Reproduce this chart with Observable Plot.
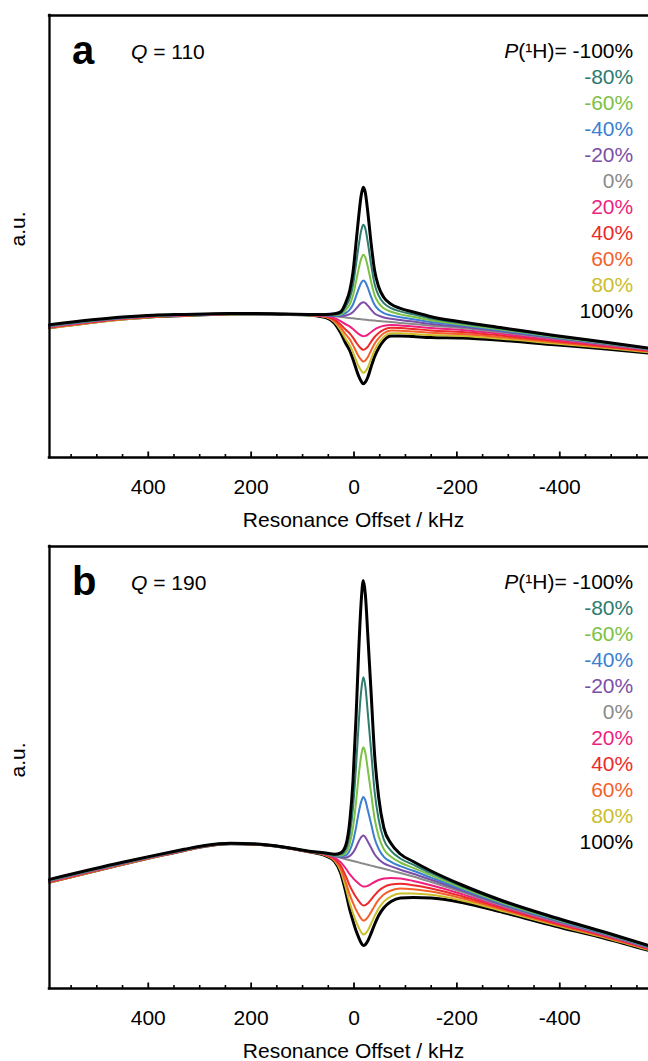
<!DOCTYPE html>
<html><head><meta charset="utf-8">
<script src="https://cdn.jsdelivr.net/npm/d3@7"></script>
<script src="https://cdn.jsdelivr.net/npm/@observablehq/plot@0.6"></script>
<style>
html,body{margin:0;padding:0;background:#fff;overflow:hidden;width:648px;height:1061px}
#chart{width:658px}
#chart svg{display:block;max-width:none}
</style></head><body><div id="chart"></div>
<script>
// Resonance offset sample positions (kHz)
const offsetKHz = [592, 450, 390, 330, 290, 240, 190, 150, 90, 55, 38, 26, 16, 8, 2, -4, -9, -14, -18, -22, -27, -33, -40, -48, -58, -72, -90, -115, -150, -210, -290, -390, -490, -573];

const polarization = [-100, -80, -60, -40, -20, 0, 20, 40, 60, 80, 100];
const legendLabels = ["P(¹H)= -100%", "-80%", "-60%", "-40%", "-20%", "0%", "20%", "40%", "60%", "80%", "100%"];
const seriesColors = ["#000000", "#2e7b70", "#7cc143", "#3b7fd0", "#7b4ea8", "#8a8a8a", "#ee1f7f", "#ed2a2a", "#f3612b", "#cbbd2c", "#000000"];
const xMajorTicks = [400, 200, 0, -200, -400];
const xMinorTicks = [550, 500, 450, 350, 300, 250, 150, 100, 50, -50, -100, -150, -250, -300, -350, -450, -500, -550];

// Panel a (Q = 110), intensity in a.u.
const a_m100 = [132.8, 140.4, 142.3, 143.1, 143.6, 143.9, 143.9, 143.6, 143.1, 143.0, 143.7, 145.6, 155.0, 167.5, 185.2, 214.8, 240.5, 262.2, 270.3, 264.8, 244.5, 215.2, 186.9, 170.5, 160.0, 153.4, 149.1, 145.5, 140.8, 135.5, 129.5, 122.0, 115.2, 109.5];
const a_m80 = [132.4, 140.2, 142.1, 143.0, 143.5, 143.8, 143.8, 143.6, 143.0, 142.8, 143.1, 144.3, 150.9, 159.7, 172.3, 193.3, 211.6, 227.0, 232.7, 228.9, 214.5, 193.7, 173.5, 161.8, 154.3, 149.4, 146.1, 143.1, 139.0, 134.3, 128.6, 121.4, 114.8, 109.2];
const a_m60 = [132.1, 139.9, 142.0, 142.8, 143.4, 143.8, 143.8, 143.6, 143.0, 142.6, 142.5, 143.2, 147.6, 153.4, 161.9, 176.1, 188.4, 198.8, 202.7, 200.1, 190.3, 176.1, 162.4, 154.4, 149.2, 145.7, 143.1, 140.7, 137.2, 133.1, 127.7, 120.8, 114.3, 108.9];
const a_m40 = [131.7, 139.7, 141.8, 142.7, 143.3, 143.7, 143.8, 143.5, 142.9, 142.4, 142.0, 142.3, 144.6, 148.0, 153.0, 161.3, 168.6, 174.7, 177.0, 175.4, 169.5, 160.9, 152.7, 147.7, 144.4, 142.1, 140.2, 138.3, 135.4, 131.9, 126.8, 120.2, 113.9, 108.6];
const a_m20 = [131.4, 139.4, 141.6, 142.5, 143.2, 143.7, 143.7, 143.5, 142.9, 142.2, 141.6, 141.4, 142.1, 143.3, 145.4, 148.8, 151.9, 154.4, 155.3, 154.5, 151.8, 147.9, 144.1, 141.8, 140.0, 138.7, 137.4, 135.9, 133.6, 130.7, 125.9, 119.6, 113.4, 108.3];
const a_0 = [131.0, 139.2, 141.4, 142.4, 143.1, 143.6, 143.7, 143.5, 142.8, 142.0, 141.2, 140.6, 140.0, 139.5, 139.2, 138.8, 138.5, 138.2, 138.0, 137.8, 137.5, 137.2, 136.9, 136.5, 136.0, 135.4, 134.6, 133.5, 131.8, 129.5, 125.0, 119.0, 113.0, 108.0];
const a_p20 = [130.6, 138.9, 141.2, 142.2, 143.0, 143.5, 143.7, 143.5, 142.7, 141.6, 139.4, 136.4, 133.2, 130.9, 128.5, 125.7, 123.6, 122.0, 121.3, 121.6, 122.9, 125.3, 128.0, 130.1, 131.8, 132.5, 132.0, 131.0, 129.4, 127.5, 123.4, 117.7, 112.1, 107.3];
const a_p40 = [130.2, 138.6, 141.0, 142.1, 142.9, 143.5, 143.6, 143.5, 142.6, 141.2, 137.9, 133.0, 127.7, 123.9, 119.9, 115.2, 111.6, 108.9, 107.7, 108.5, 110.9, 115.5, 120.5, 124.5, 127.9, 129.7, 129.4, 128.5, 127.1, 125.5, 121.8, 116.5, 111.2, 106.6];
const a_p60 = [129.8, 138.4, 140.8, 141.9, 142.8, 143.4, 143.6, 143.4, 142.6, 140.8, 136.6, 130.1, 123.0, 117.9, 112.4, 106.1, 101.2, 97.7, 96.0, 97.1, 100.4, 106.8, 113.8, 119.4, 124.2, 126.9, 126.8, 126.0, 124.7, 123.5, 120.2, 115.2, 110.3, 105.9];
const a_p80 = [129.4, 138.1, 140.6, 141.8, 142.7, 143.3, 143.5, 143.4, 142.5, 140.4, 135.4, 127.3, 118.4, 112.1, 105.2, 97.3, 91.2, 86.8, 84.7, 86.0, 90.3, 98.4, 107.3, 114.4, 120.6, 124.2, 124.2, 123.5, 122.4, 121.5, 118.6, 114.0, 109.4, 105.2];
const a_p100 = [129.8, 138.4, 140.8, 141.9, 142.8, 143.4, 143.6, 143.4, 142.6, 140.0, 134.2, 124.6, 114.0, 106.5, 98.2, 88.8, 81.5, 76.2, 73.7, 75.3, 80.5, 90.2, 100.9, 109.5, 117.0, 121.4, 121.6, 121.0, 120.0, 119.5, 117.0, 112.7, 108.5, 104.5];

// Panel b (Q = 190), intensity in a.u.
const b_m100 = [109.1, 126.2, 132.9, 139.2, 143.1, 145.3, 144.6, 142.6, 137.6, 135.5, 134.2, 135.6, 143.3, 168.3, 207.5, 271.7, 336.1, 387.4, 407.9, 394.4, 351.7, 297.9, 234.0, 191.0, 160.7, 144.9, 134.5, 127.0, 117.5, 103.5, 87.5, 71.0, 56.0, 42.9];
const b_m80 = [108.8, 126.0, 132.7, 139.1, 143.0, 145.2, 144.6, 142.6, 137.5, 135.3, 133.7, 134.2, 139.0, 155.2, 180.6, 222.4, 264.4, 297.8, 311.2, 302.3, 274.3, 239.1, 197.2, 168.8, 148.7, 137.7, 130.0, 123.8, 115.3, 102.1, 86.5, 70.3, 55.5, 42.5];
const b_m60 = [108.5, 125.7, 132.6, 138.9, 142.9, 145.2, 144.5, 142.5, 137.4, 135.1, 133.2, 133.0, 135.6, 145.4, 161.0, 186.7, 212.5, 233.0, 241.2, 235.6, 218.2, 196.1, 170.0, 152.1, 139.2, 131.8, 126.0, 120.7, 113.1, 100.7, 85.5, 69.6, 55.0, 42.0];
const b_m40 = [108.1, 125.5, 132.4, 138.8, 142.8, 145.1, 144.5, 142.5, 137.4, 134.9, 132.8, 132.1, 133.1, 138.3, 146.9, 161.1, 175.6, 186.9, 191.4, 188.1, 178.0, 165.2, 150.0, 139.5, 131.7, 126.6, 122.3, 117.7, 110.9, 99.3, 84.5, 68.9, 54.5, 41.6];
const b_m20 = [107.8, 125.2, 132.2, 138.6, 142.7, 145.1, 144.4, 142.4, 137.3, 134.7, 132.5, 131.3, 131.0, 132.6, 135.8, 141.3, 147.0, 151.4, 153.0, 151.4, 146.7, 141.0, 134.2, 129.2, 125.2, 122.1, 118.8, 114.8, 108.7, 97.9, 83.5, 68.2, 54.0, 41.1];
const b_0 = [107.5, 125.0, 132.0, 138.5, 142.6, 145.0, 144.4, 142.4, 137.2, 134.5, 132.2, 130.6, 129.3, 128.3, 127.5, 126.7, 126.1, 125.4, 124.9, 124.4, 123.7, 122.9, 122.0, 121.0, 119.7, 117.9, 115.5, 112.0, 106.5, 96.5, 82.5, 67.5, 53.5, 40.7];
const b_p20 = [107.1, 124.7, 131.8, 138.3, 142.5, 144.9, 144.4, 142.4, 137.1, 134.1, 130.8, 126.4, 120.0, 114.1, 110.5, 107.2, 105.0, 103.0, 102.0, 102.0, 102.7, 104.4, 106.5, 108.5, 109.9, 110.6, 110.0, 107.6, 103.3, 94.4, 81.2, 66.5, 52.7, 40.2];
const b_p40 = [106.7, 124.4, 131.6, 138.2, 142.4, 144.9, 144.3, 142.3, 137.0, 133.7, 129.7, 122.9, 112.3, 102.4, 96.5, 91.2, 87.6, 84.4, 83.0, 83.4, 85.2, 88.8, 93.3, 97.8, 101.4, 103.9, 104.8, 103.3, 100.1, 92.3, 79.9, 65.5, 52.0, 39.6];
const b_p60 = [106.3, 124.2, 131.4, 138.0, 142.3, 144.8, 144.3, 142.3, 136.9, 133.3, 128.8, 120.2, 106.2, 93.3, 85.6, 78.6, 73.9, 69.8, 68.0, 68.7, 71.3, 76.3, 82.6, 88.8, 94.0, 98.0, 99.9, 99.2, 96.9, 90.2, 78.6, 64.5, 51.2, 39.1];
const b_p80 = [105.9, 123.9, 131.2, 137.9, 142.2, 144.7, 144.2, 142.3, 136.8, 132.9, 127.9, 117.6, 100.7, 84.9, 75.4, 66.9, 61.1, 56.2, 54.0, 54.9, 58.2, 64.5, 72.4, 80.2, 86.9, 92.2, 95.1, 95.0, 93.7, 88.1, 77.3, 63.5, 50.5, 38.5];
const b_p100 = [106.3, 124.2, 131.4, 138.0, 142.3, 144.8, 144.3, 142.3, 136.9, 132.5, 127.2, 115.6, 96.3, 78.3, 67.5, 57.7, 51.1, 45.4, 42.9, 43.9, 47.7, 54.9, 64.0, 73.0, 80.7, 86.9, 90.5, 91.0, 90.5, 86.0, 76.0, 62.5, 49.7, 38.0];

const panelA = [a_m100, a_m80, a_m60, a_m40, a_m20, a_0, a_p20, a_p40, a_p60, a_p80, a_p100];
const panelB = [b_m100, b_m80, b_m60, b_m40, b_m20, b_0, b_p20, b_p40, b_p60, b_p80, b_p100];

const X_DOMAIN = [592, -590];
const Y_DOMAIN = [0, 442];
const FONT = "'Liberation Sans', Arial, Helvetica, sans-serif";
const FS = 21;

function tickSymbol(len) {
  return {draw(ctx) { ctx.moveTo(0, 0); ctx.lineTo(0, -len); }};
}

function makePanel(letter, qValue, seriesList) {
  const marks = [];
  const order = [10, 9, 8, 7, 6, 5, 4, 3, 2, 1, 0];
  for (const i of order) {
    const rows = offsetKHz.map((x, j) => ({x, y: seriesList[i][j], p: polarization[i]}));
    const isBlack = (i === 0 || i === 10);
    marks.push(Plot.line(rows, {
      x: "x", y: "y", stroke: seriesColors[i],
      strokeWidth: isBlack ? 3 : 2, curve: "monotone-x",
      strokeLinejoin: "round", strokeLinecap: "round"
    }));
  }
  marks.push(Plot.ruleY([Y_DOMAIN[1]], {stroke: "black", strokeWidth: 2.3, strokeLinecap: "square"}));
  marks.push(Plot.ruleY([Y_DOMAIN[0]], {stroke: "black", strokeWidth: 2.5, strokeLinecap: "square"}));
  marks.push(Plot.ruleX([X_DOMAIN[0]], {stroke: "black", strokeWidth: 2.3, strokeLinecap: "square"}));
  marks.push(Plot.dot(xMajorTicks, {x: d => d, frameAnchor: "bottom", symbol: tickSymbol(6), stroke: "black", fill: "none", strokeWidth: 1.8}));
  marks.push(Plot.dot(xMinorTicks, {x: d => d, frameAnchor: "bottom", symbol: tickSymbol(3.5), stroke: "black", fill: "none", strokeWidth: 1.6}));
  marks.push(Plot.text(xMajorTicks, {x: d => d, frameAnchor: "bottom", dy: 36, lineAnchor: "bottom", text: d => String(d), fontSize: FS, fill: "black"}));
  marks.push(Plot.text(["Resonance Offset / kHz"], {frameAnchor: "bottom", dy: 69, lineAnchor: "bottom", fontSize: FS, fill: "black"}));
  marks.push(Plot.text(["a.u."], {frameAnchor: "left", dx: -31, dy: 10, rotate: -90, fontSize: FS, fill: "black"}));
  marks.push(Plot.text([letter], {frameAnchor: "top-left", dx: 22.5, dy: 48.3, textAnchor: "start", lineAnchor: "bottom", fontSize: 40, fontWeight: "bold", fill: "black"}));
  marks.push(Plot.text(["Q = " + qValue], {frameAnchor: "top-left", dx: 81.5, dy: 43.3, textAnchor: "start", lineAnchor: "bottom", fontSize: FS, fill: "black"}));
  legendLabels.forEach((lab, i) => {
    marks.push(Plot.text([lab], {frameAnchor: "top-right", dx: -24.3, dy: 42.5 + 26 * i, textAnchor: "end", lineAnchor: "bottom", fontSize: FS, fill: seriesColors[i]}));
  });

  const svg = Plot.plot({
    width: 658, height: 531,
    marginLeft: 49, marginRight: 1, marginTop: 15, marginBottom: 74,
    x: {domain: X_DOMAIN, axis: null},
    y: {domain: Y_DOMAIN, axis: null},
    style: {fontFamily: FONT, fontSize: FS + "px", background: "white", overflow: "visible", maxWidth: "none"},
    marks
  });
  svg.style.maxWidth = "none";
  svg.querySelectorAll("text").forEach(t => {
    const s = t.textContent;
    if (s === "P(¹H)= -100%" || s.startsWith("Q = ")) {
      const first = s[0], rest = s.slice(1);
      while (t.firstChild) t.removeChild(t.firstChild);
      const it = document.createElementNS("http://www.w3.org/2000/svg", "tspan");
      it.setAttribute("font-style", "italic");
      it.textContent = first;
      t.appendChild(it);
      const r = document.createElementNS("http://www.w3.org/2000/svg", "tspan");
      r.textContent = rest;
      t.appendChild(r);
    }
  });
  return svg;
}

const chart = document.getElementById("chart");
chart.appendChild(makePanel("a", "110", panelA));
chart.appendChild(makePanel("b", "190", panelB));
</script>
</body></html>
